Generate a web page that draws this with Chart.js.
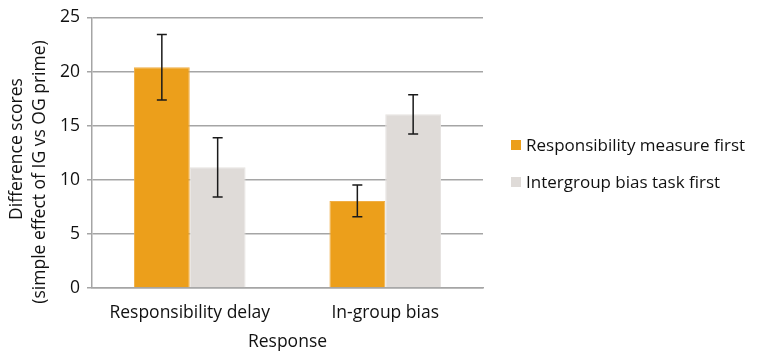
<!DOCTYPE html>
<html><head><meta charset="utf-8">
<script src="https://cdn.jsdelivr.net/npm/chart.js@4"></script>
<style>html,body{margin:0;padding:0;background:#fff}#wrap{width:757px;height:351px}</style>
</head><body><div id="wrap"><canvas id="c" width="757" height="351"></canvas></div>
<script>
const categories = ['Responsibility delay', 'In-group bias'];
const seriesNames = ['Responsibility measure first', 'Intergroup bias task first'];
const respFirst = [20.4, 8.05];
const respFirstErr = [3.02, 1.46];
const biasFirst = [11.15, 16.05];
const biasFirstErr = [2.73, 1.81];
const yTicks = [0, 5, 10, 15, 20, 25];
const yTitle = ['Difference scores', '(simple effect of IG vs OG prime)'];
const xTitle = 'Response';

const FONT = '"Open Sans", sans-serif';
const TXT = '#111111';
const FS = 17.5;

const errPlugin = {
  id: 'errbars',
  afterDatasetsDraw(chart) {
    const ctx = chart.ctx, y = chart.scales.y;
    chart.data.datasets.forEach((ds, i) => {
      const meta = chart.getDatasetMeta(i);
      meta.data.forEach((bar, j) => {
        const v = ds.data[j], e = ds.err[j];
        const yt = y.getPixelForValue(v + e), yb = y.getPixelForValue(v - e);
        ctx.save();
        ctx.strokeStyle = '#1a1a1a'; ctx.lineWidth = 1.5;
        ctx.beginPath();
        ctx.moveTo(bar.x, yt); ctx.lineTo(bar.x, yb);
        ctx.moveTo(bar.x - 5, yt); ctx.lineTo(bar.x + 5, yt);
        ctx.moveTo(bar.x - 5, yb); ctx.lineTo(bar.x + 5, yb);
        ctx.stroke();
        ctx.restore();
      });
    });
  }
};

const textPlugin = {
  id: 'texts',
  afterDraw(chart) {
    const ctx = chart.ctx;
    ctx.save();
    ctx.fillStyle = TXT;
    ctx.font = FS + 'px ' + FONT;
    ctx.textAlign = 'center'; ctx.textBaseline = 'middle';
    const centers = [[17, 149], [40, 172]];
    yTitle.forEach((t, i) => {
      ctx.save();
      ctx.translate(centers[i][0], centers[i][1]);
      ctx.rotate(-Math.PI / 2);
      ctx.fillText(t, 0, 0);
      ctx.restore();
    });
    ctx.font = '17px ' + FONT;
    ctx.textAlign = 'left';
    const rows = [145, 182];
    chart.data.datasets.forEach((ds, i) => {
      ctx.fillStyle = ds.backgroundColor;
      ctx.fillRect(511, rows[i] - 5, 10, 10);
      ctx.fillStyle = TXT;
      ctx.fillText(ds.label, 526, rows[i] + 1);
    });
    ctx.restore();
  }
};

new Chart(document.getElementById('c'), {
  type: 'bar',
  data: {
    labels: categories,
    datasets: [
      { label: seriesNames[0], data: respFirst, err: respFirstErr, backgroundColor: '#ec9f1b', borderColor: '#f0ae45', borderWidth: 1 },
      { label: seriesNames[1], data: biasFirst, err: biasFirstErr, backgroundColor: '#dfdbd8', borderColor: '#e6e3e0', borderWidth: 1 }
    ]
  },
  options: {
    responsive: false,
    animation: false,
    devicePixelRatio: 1,
    layout: { padding: { left: 0, right: 274, top: 14, bottom: 0 } },
    plugins: { legend: { display: false }, tooltip: { enabled: false } },
    datasets: { bar: { barPercentage: 1, categoryPercentage: 0.571 } },
    scales: {
      x: {
        grid: { display: false },
        border: { display: true, color: '#a5a5a5', width: 1.5 },
        ticks: { color: TXT, font: { family: FONT, size: FS }, padding: 7 },
        title: { display: true, text: xTitle, color: TXT, font: { family: FONT, size: FS }, padding: { top: 0, bottom: -2 } },
        afterFit(s) { s.height = 63; }
      },
      y: {
        min: 0, max: 25,
        afterBuildTicks(s) { s.ticks = yTicks.map(v => ({ value: v })); },
        grid: { color: '#a5a5a5', lineWidth: 1.5, tickLength: 5, drawTicks: true },
        border: { display: true, color: '#a5a5a5', width: 1.5 },
        ticks: { color: TXT, font: { family: FONT, size: FS }, padding: 7 },
        afterFit(s) { s.width = 92; }
      }
    }
  },
  plugins: [errPlugin, textPlugin]
});
</script>
</body></html>
